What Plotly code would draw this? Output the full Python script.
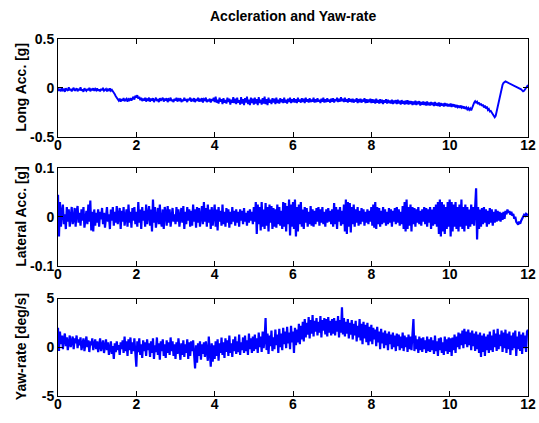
import plotly.graph_objects as go

# samples every 0.025 s from 0 to 12 s (one row per half second)
long_acc = [
    -0.005,-0.03,-0.01,-0.035,0.0,-0.025,-0.015,-0.04,-0.005,-0.02,-0.03,0.005,-0.025,-0.01,-0.035,-0.015,0.0,-0.03,-0.02,-0.005,
    -0.035,-0.01,-0.025,0.005,-0.03,-0.015,-0.04,-0.005,-0.02,-0.03,-0.01,-0.025,0.0,-0.035,-0.015,-0.02,-0.005,-0.03,-0.01,-0.025,
    -0.005,-0.03,-0.015,-0.035,-0.01,-0.025,0.0,-0.03,-0.02,-0.01,-0.035,-0.015,-0.025,-0.005,-0.03,-0.02,-0.035,-0.045,-0.065,-0.085,
    -0.10,-0.12,-0.13,-0.11,-0.14,-0.115,-0.13,-0.105,-0.135,-0.12,-0.11,-0.14,-0.115,-0.125,-0.105,-0.13,-0.11,-0.09,-0.12,-0.08,
    -0.1,-0.075,-0.11,-0.09,-0.125,-0.1,-0.135,-0.11,-0.13,-0.1,-0.14,-0.115,-0.125,-0.1,-0.14,-0.11,-0.13,-0.105,-0.145,-0.12,
    -0.1,-0.135,-0.115,-0.145,-0.105,-0.13,-0.12,-0.1,-0.14,-0.11,-0.13,-0.105,-0.145,-0.115,-0.125,-0.1,-0.135,-0.12,-0.145,-0.11,
    -0.13,-0.1,-0.14,-0.115,-0.125,-0.105,-0.145,-0.12,-0.135,-0.1,-0.13,-0.115,-0.145,-0.11,-0.125,-0.1,-0.14,-0.12,-0.13,-0.105,
    -0.145,-0.115,-0.13,-0.1,-0.14,-0.12,-0.135,-0.105,-0.15,-0.115,-0.125,-0.1,-0.145,-0.12,-0.135,-0.11,-0.15,-0.115,-0.13,-0.1,
    -0.145,-0.09,-0.15,-0.12,-0.16,-0.1,-0.14,-0.115,-0.165,-0.105,-0.15,-0.125,-0.16,-0.1,-0.145,-0.11,-0.17,-0.12,-0.15,-0.095,
    -0.155,-0.11,-0.165,-0.1,-0.15,-0.125,-0.17,-0.095,-0.16,-0.115,-0.175,-0.105,-0.15,-0.09,-0.165,-0.12,-0.175,-0.1,-0.155,-0.11,
    -0.17,-0.1,-0.16,-0.115,-0.175,-0.095,-0.155,-0.12,-0.17,-0.105,-0.16,-0.09,-0.165,-0.115,-0.175,-0.1,-0.15,-0.12,-0.165,-0.105,
    -0.15,-0.11,-0.165,-0.1,-0.155,-0.12,-0.16,-0.105,-0.145,-0.115,-0.155,-0.1,-0.15,-0.12,-0.16,-0.11,-0.145,-0.1,-0.155,-0.115,
    -0.145,-0.105,-0.15,-0.115,-0.155,-0.1,-0.14,-0.12,-0.15,-0.105,-0.145,-0.11,-0.155,-0.1,-0.14,-0.115,-0.15,-0.105,-0.145,-0.12,
    -0.14,-0.1,-0.15,-0.115,-0.145,-0.105,-0.14,-0.12,-0.155,-0.11,-0.14,-0.1,-0.15,-0.115,-0.145,-0.105,-0.14,-0.12,-0.15,-0.11,
    -0.14,-0.105,-0.15,-0.115,-0.135,-0.1,-0.145,-0.11,-0.14,-0.095,-0.135,-0.11,-0.145,-0.1,-0.14,-0.115,-0.15,-0.105,-0.14,-0.115,
    -0.145,-0.11,-0.15,-0.12,-0.14,-0.105,-0.155,-0.115,-0.145,-0.11,-0.15,-0.12,-0.14,-0.105,-0.155,-0.115,-0.15,-0.12,-0.145,-0.11,
    -0.155,-0.115,-0.15,-0.12,-0.16,-0.11,-0.15,-0.125,-0.16,-0.115,-0.155,-0.12,-0.165,-0.125,-0.15,-0.115,-0.16,-0.12,-0.155,-0.13,
    -0.16,-0.12,-0.165,-0.13,-0.155,-0.125,-0.165,-0.12,-0.16,-0.13,-0.17,-0.125,-0.16,-0.135,-0.17,-0.13,-0.165,-0.125,-0.17,-0.135,
    -0.165,-0.135,-0.175,-0.14,-0.17,-0.13,-0.175,-0.14,-0.165,-0.135,-0.18,-0.145,-0.17,-0.14,-0.175,-0.145,-0.18,-0.14,-0.175,-0.15,
    -0.18,-0.145,-0.175,-0.15,-0.185,-0.145,-0.18,-0.155,-0.185,-0.15,-0.19,-0.155,-0.18,-0.16,-0.19,-0.155,-0.185,-0.16,-0.19,-0.165,
    -0.19,-0.16,-0.195,-0.165,-0.19,-0.17,-0.2,-0.175,-0.195,-0.18,-0.205,-0.18,-0.2,-0.185,-0.21,-0.19,-0.215,-0.2,-0.22,-0.205,
    -0.225,-0.21,-0.23,-0.2,-0.175,-0.15,-0.135,-0.15,-0.14,-0.165,-0.15,-0.175,-0.16,-0.185,-0.17,-0.2,-0.18,-0.21,-0.19,-0.225,
    -0.215,-0.24,-0.235,-0.255,-0.26,-0.28,-0.3,-0.285,-0.24,-0.19,-0.14,-0.09,-0.04,0.0,0.03,0.05,0.06,0.065,0.06,0.055,
    0.05,0.045,0.04,0.035,0.035,0.03,0.025,0.02,0.015,0.01,0.005,0.0,-0.005,-0.015,-0.025,-0.035,-0.03,-0.015,0.0,0.015,
    0.03,
]

lateral_acc = [
    0.045,-0.04,0.03,-0.02,0.01,0.025,-0.015,0.005,-0.025,0.02,-0.01,0.015,-0.02,0.005,0.02,-0.015,-0.005,0.018,-0.02,0.01,
    0.022,-0.012,0.008,-0.018,0.015,-0.008,0.02,-0.022,0.005,0.012,-0.015,0.025,-0.01,0.033,-0.028,0.01,-0.03,0.015,-0.018,0.008,
    -0.012,0.015,-0.02,0.01,-0.005,0.018,-0.015,0.008,-0.022,0.012,0.02,-0.01,0.005,-0.025,0.015,-0.008,0.02,-0.018,0.01,-0.012,
    0.022,-0.015,0.005,0.018,-0.025,0.012,-0.01,0.02,-0.018,0.008,0.015,-0.02,0.025,-0.012,0.01,-0.022,0.018,-0.008,0.02,-0.015,
    0.01,-0.02,0.03,-0.012,0.015,-0.025,0.02,-0.008,0.012,-0.02,0.025,-0.015,0.01,0.022,-0.018,0.015,-0.03,0.035,-0.012,0.02,
    -0.022,0.01,0.018,-0.015,0.025,-0.01,-0.02,0.015,-0.025,0.02,0.008,-0.018,0.022,-0.012,0.015,-0.02,0.01,0.018,-0.01,0.005,
    -0.015,0.02,-0.01,0.015,-0.02,0.008,0.018,-0.012,0.022,-0.025,0.01,-0.015,0.02,-0.008,0.015,-0.02,0.012,-0.018,0.025,-0.01,
    0.015,-0.022,0.02,-0.012,0.018,-0.02,0.01,0.022,-0.015,0.03,-0.01,0.018,-0.02,0.025,-0.012,0.015,-0.025,0.02,-0.018,0.01,
    0.025,-0.02,0.015,-0.028,0.02,-0.01,0.012,-0.018,0.025,-0.015,0.01,-0.02,0.018,-0.012,0.015,-0.022,0.01,-0.015,0.02,-0.01,
    0.012,-0.018,0.015,-0.012,0.01,-0.02,0.015,-0.008,0.012,-0.015,0.018,-0.01,0.008,-0.018,0.012,-0.012,0.015,-0.008,0.01,-0.015,
    0.02,-0.01,0.03,-0.035,0.025,-0.015,0.02,-0.028,0.03,-0.02,0.015,-0.025,0.028,-0.018,0.02,-0.03,0.025,-0.012,0.022,-0.025,
    0.018,-0.02,0.015,-0.022,0.025,-0.015,0.02,-0.018,0.012,-0.025,0.03,-0.02,0.028,-0.03,0.022,-0.015,0.035,-0.038,0.025,-0.02,
    0.03,-0.025,0.035,-0.04,0.02,-0.03,0.025,-0.015,0.03,-0.02,0.015,-0.025,0.02,-0.012,0.018,-0.02,0.01,-0.015,0.022,-0.018,
    0.015,-0.02,0.012,-0.015,0.018,-0.01,0.02,-0.018,0.015,-0.012,0.02,-0.015,0.01,-0.02,0.015,-0.012,0.018,-0.01,0.012,-0.015,
    0.015,-0.02,0.028,-0.015,0.02,-0.025,0.015,-0.01,0.02,-0.018,0.012,-0.015,0.025,-0.03,0.035,-0.035,0.03,-0.02,0.028,-0.032,
    0.02,-0.015,0.025,-0.02,0.015,-0.012,0.02,-0.018,0.012,-0.015,0.018,-0.01,0.015,-0.018,0.01,-0.012,0.015,-0.015,0.012,-0.01,
    0.02,-0.018,0.025,-0.022,0.03,-0.025,0.02,-0.015,0.018,-0.02,0.012,-0.015,0.02,-0.012,0.015,-0.018,0.01,-0.015,0.018,-0.012,
    0.015,-0.02,0.012,-0.01,0.018,-0.015,0.02,-0.012,0.015,-0.018,0.01,-0.015,0.022,-0.025,0.03,-0.03,0.035,-0.025,0.02,-0.018,
    0.025,-0.03,0.02,-0.015,0.018,-0.02,0.015,-0.012,0.02,-0.015,0.012,-0.018,0.015,-0.01,0.02,-0.015,0.018,-0.02,0.015,-0.012,
    0.02,-0.025,0.015,-0.018,0.02,-0.015,0.025,-0.02,0.03,-0.035,0.035,-0.04,0.03,-0.03,0.025,-0.035,0.02,-0.025,0.03,-0.02,
    0.035,-0.04,0.03,-0.03,0.025,-0.02,0.03,-0.025,0.02,-0.03,0.025,-0.02,0.035,-0.025,0.02,-0.03,0.025,-0.018,0.02,-0.025,
    0.015,-0.02,0.025,-0.015,0.02,-0.018,0.03,0.058,-0.046,0.02,-0.025,0.015,-0.02,0.018,-0.015,0.02,-0.012,0.015,-0.02,0.012,
    -0.015,0.018,-0.012,0.015,-0.018,0.01,-0.012,0.015,-0.01,0.012,-0.008,0.01,-0.01,0.008,-0.006,0.01,-0.004,0.012,0.005,0.015,
    0.008,0.012,0.004,0.01,0.002,0.006,-0.004,0.0,-0.01,-0.014,-0.016,-0.01,-0.014,-0.008,-0.004,0.0,0.004,0.002,0.006,0.004,
    0.005,
]

yaw_rate = [
    2.0,-0.4,1.6,0.3,1.2,-0.2,0.9,1.4,0.1,1.0,-0.3,0.8,1.2,0.0,0.7,1.1,-0.2,0.9,0.4,1.2,
    -0.1,0.8,0.2,1.0,-0.3,0.6,0.9,-0.4,0.5,1.1,0.0,0.7,-0.5,0.6,0.2,0.9,-0.3,0.5,0.8,-0.2,
    0.6,-0.5,0.4,0.9,-0.4,0.2,0.7,-0.6,0.3,0.8,-0.3,0.5,-0.8,0.2,0.6,-0.7,0.1,-1.2,0.4,-0.5,
    0.6,-0.3,0.2,-0.8,0.5,-0.2,0.7,-0.6,1.1,-0.4,0.6,-0.9,0.8,-0.3,1.0,-0.7,0.5,-0.4,0.9,-0.6,
    -2.0,0.6,-0.5,0.9,-0.8,0.3,-1.1,0.7,-0.4,0.5,-0.9,0.8,-0.3,0.4,-1.0,0.6,-0.6,0.9,-1.2,0.2,
    -0.5,1.0,-0.8,0.4,-1.3,0.6,-0.4,0.8,-0.9,0.3,-1.1,0.7,-0.6,0.5,-0.8,1.0,-0.4,0.6,-0.9,0.3,
    -1.2,0.5,-0.7,0.9,-0.5,-1.3,0.4,-0.8,0.7,-1.0,0.3,-0.6,0.8,-1.2,0.5,-0.9,0.6,-0.4,0.7,-1.1,
    -2.2,0.2,-1.6,0.4,-0.9,0.6,-1.3,0.3,-0.7,0.5,-1.0,0.6,-0.5,-1.4,1.1,-0.8,-2.0,0.4,-1.5,0.2,
    -1.2,0.6,-0.9,0.8,-1.4,0.4,-0.6,1.0,-0.8,0.5,-1.1,0.9,-0.5,0.7,-0.9,1.2,-0.6,0.4,-1.0,0.8,
    -0.4,1.1,-0.7,0.6,-0.5,1.3,-0.8,0.5,-0.3,1.0,-0.6,1.2,-0.4,0.7,-0.8,1.4,-0.2,0.9,-0.6,1.1,
    -0.4,1.3,-0.2,0.9,-0.6,1.5,0.0,1.1,-0.5,1.6,-0.1,0.8,3.0,-0.3,1.4,-0.7,1.2,0.1,1.7,-0.4,
    1.0,-0.2,1.8,0.2,1.3,-0.6,1.9,0.0,1.4,-0.3,2.0,0.3,1.6,-0.1,2.1,0.4,1.5,-0.2,2.2,0.5,
    1.6,-0.6,2.0,0.2,1.8,0.5,2.4,0.3,2.2,0.8,2.6,0.6,2.9,1.0,2.5,1.3,3.1,0.9,2.8,1.4,
    3.3,1.1,2.7,1.6,3.0,1.2,2.6,1.5,3.2,1.0,2.8,1.7,3.0,1.3,2.9,1.1,3.1,1.5,2.7,1.2,
    2.9,1.4,3.0,1.2,2.7,1.6,3.2,1.0,2.8,1.5,4.1,1.3,3.0,1.1,2.6,1.4,2.9,0.9,2.5,1.3,
    2.8,0.8,2.4,1.2,2.7,0.6,2.2,1.0,2.9,0.7,2.4,0.3,2.6,0.9,2.3,0.5,2.5,0.2,2.1,0.6,
    2.3,0.3,2.0,0.8,1.8,0.1,2.1,0.5,1.6,-0.2,1.9,0.4,1.5,-0.1,1.7,0.2,1.4,-0.3,1.6,0.3,
    1.3,-0.2,1.5,0.0,1.2,-0.4,1.4,0.1,1.3,-0.3,1.1,-0.1,1.5,-0.4,1.2,0.0,1.0,-0.5,1.3,-0.2,
    1.1,-0.3,0.9,2.9,-0.4,1.2,-0.2,0.8,-0.6,1.1,-0.3,0.9,-0.5,1.0,-0.2,0.7,-0.6,1.1,-0.4,0.8,
    -0.5,1.0,-0.3,0.7,-0.7,1.2,-0.4,0.6,-0.9,0.9,-0.3,1.0,-0.6,0.5,-0.8,1.1,-0.4,0.8,-0.7,1.0,
    -0.5,0.9,-0.9,1.0,-0.3,1.3,-0.6,1.1,0.0,1.5,-0.2,1.4,0.2,1.7,-0.1,1.9,0.3,1.6,0.0,1.8,
    0.2,1.5,-0.3,1.7,0.1,1.4,-0.4,1.6,-0.2,1.3,-0.6,1.5,-1.0,1.2,-0.5,1.4,-0.9,1.1,-0.3,1.3,
    -0.6,1.6,-0.3,1.2,-0.5,1.8,0.0,1.4,-0.4,1.9,-0.2,1.3,0.1,1.7,-0.5,1.5,-0.1,1.8,-0.6,1.4,
    -0.2,1.6,-0.8,1.2,-0.3,1.5,-0.1,1.7,-0.9,1.1,-0.2,1.6,-0.4,1.3,-0.7,1.5,-0.1,1.2,-0.5,1.6,
    1.8,
]

title_text = "Accleration and Yaw-rate"
y_titles = ["Long Acc. [g]", "Lateral Acc. [g]", "Yaw-rate [deg/s]"]
y_ranges = [[-0.5, 0.5], [-0.1, 0.1], [-5, 5]]
y_ticks = [[-0.5, 0, 0.5], [-0.1, 0, 0.1], [-5, 0, 5]]
y_ticklabels = [["-0.5", "0", "0.5"], ["-0.1", "0", "0.1"], ["-5", "0", "5"]]
x_ticks = [0, 2, 4, 6, 8, 10, 12]
dt = 0.025

W, H = 539, 423
L, R = 58, 11
boxes = [(32, 134), (166, 268), (302, 403)]
line_widths = [1.9, 2.2, 2.2]

FONT = "Liberation Sans, Arial, sans-serif"
fig = go.Figure()
series = [long_acc, lateral_acc, yaw_rate]
annotations = []
for i, ys in enumerate(series):
    n = "" if i == 0 else str(i + 1)
    tt = [round(k * dt, 3) for k in range(len(ys))]
    fig.add_trace(go.Scatter(x=tt, y=ys, mode="lines", xaxis="x" + n, yaxis="y" + n,
                             line=dict(color="#0000ff", width=line_widths[i]), showlegend=False,
                             hoverinfo="skip"))
    top, bot = boxes[i]
    dom = [1 - bot / H, 1 - top / H]
    axfont = dict(family=FONT, size=14, color="black", weight="bold")
    fig.update_layout(**{
        "xaxis" + n: dict(domain=[0, 1], range=[0, 12], tickvals=x_ticks,
                          ticks="inside", ticklen=5, mirror="ticks", showline=True,
                          linecolor="black", linewidth=1, showgrid=False, zeroline=False,
                          tickfont=axfont, anchor="y" + n, tickcolor="black",
                          ticklabelstandoff=-5),
        "yaxis" + n: dict(domain=dom, range=y_ranges[i], tickvals=y_ticks[i],
                          ticktext=y_ticklabels[i],
                          ticks="inside", ticklen=5, mirror="ticks", showline=True,
                          linecolor="black", linewidth=1, showgrid=False, zeroline=False,
                          tickfont=axfont, anchor="x" + n, tickcolor="black"),
    })
    annotations.append(dict(text=y_titles[i], x=(21 - L) / (W - L - R), xref="paper",
                            y=(dom[0] + dom[1]) / 2, yref="paper", textangle=-90,
                            showarrow=False, xanchor="center", yanchor="middle",
                            font=dict(family=FONT, size=14, color="black", weight="bold")))

annotations.append(dict(text=title_text, x=0.5, xref="paper", y=1 - 8 / H, yref="paper",
                        showarrow=False, xanchor="center", yanchor="middle",
                        font=dict(family=FONT, size=14, color="black", weight="bold")))

fig.update_layout(width=W, height=H, margin=dict(l=L, r=R, t=0, b=0),
                  paper_bgcolor="white", plot_bgcolor="white",
                  annotations=annotations)

fig.write_html("out.html")
